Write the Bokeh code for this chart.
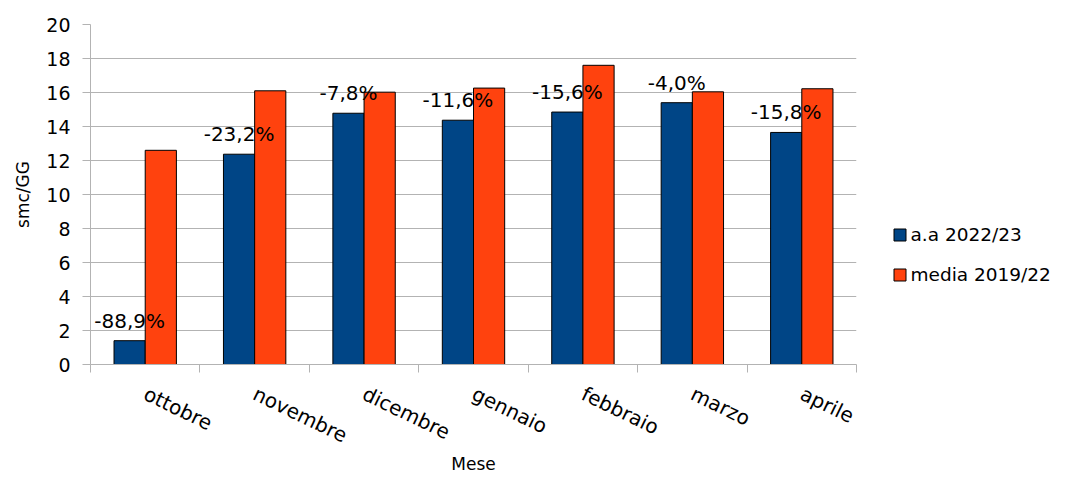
import math
from bokeh.plotting import figure
from bokeh.layouts import row
from bokeh.models import ColumnDataSource, FixedTicker, Legend, LegendItem, Range1d
from bokeh.core.properties import value
from bokeh.embed import file_html
from bokeh.resources import INLINE

# ---- data ----
months = ["ottobre", "novembre", "dicembre", "gennaio", "febbraio", "marzo", "aprile"]
aa_2022_23 = [1.4, 12.37, 14.78, 14.37, 14.85, 15.4, 13.65]
media_2019_22 = [12.6, 16.1, 16.02, 16.26, 17.6, 16.04, 16.22]
diff_labels = ["-88,9%", "-23,2%", "-7,8%", "-11,6%", "-15,6%", "-4,0%", "-15,8%"]
y_ticks = list(range(0, 21, 2))
series_names = ["a.a 2022/23", "media 2019/22"]

# ---- styling ----
FONT = "DejaVu Sans"
BLUE = "#004586"
ORANGE = "#ff420e"
GRID = "#b3b3b3"
bar_w = 0.285
off = 0.1425

n = len(months)
centers = [i + 0.5 for i in range(n)]
src = ColumnDataSource(dict(
    xb=[c - off for c in centers],
    xo=[c + off for c in centers],
    aa=aa_2022_23,
    media=media_2019_22,
    lab=diff_labels,
))

H = 477
W1 = 886          # chart part
W2 = 1067 - W1    # legend part

p = figure(width=W1, height=H, output_backend="svg", toolbar_location=None,
           x_range=Range1d(0, n), y_range=Range1d(0, 20),
           min_border_left=90, min_border_right=W1 - 856,
           min_border_top=24, min_border_bottom=H - 364)
p.outline_line_color = None
p.background_fill_color = "white"
p.border_fill_color = "white"

r1 = p.vbar(x="xb", top="aa", width=bar_w, source=src, fill_color=BLUE,
            line_color="black", line_width=1)
r2 = p.vbar(x="xo", top="media", width=bar_w, source=src, fill_color=ORANGE,
            line_color="black", line_width=1)

p.text(x="xb", y="aa", text="lab", source=src, text_align="center",
       text_baseline="alphabetic", y_offset=-20,
       text_font=value(FONT), text_font_size=value("20px"), text_color="black")

# y axis
yax = p.yaxis[0]
yax.ticker = FixedTicker(ticks=y_ticks)
yax.axis_line_color = GRID
yax.major_tick_line_color = GRID
yax.major_tick_out = 8
yax.major_tick_in = 0
yax.minor_tick_line_color = None
yax.major_label_standoff = 12
yax.major_label_text_font = FONT
yax.major_label_text_font_size = "19px"
yax.major_label_text_color = "black"
yax.axis_label = "smc/GG"
yax.axis_label_text_font = FONT
yax.axis_label_text_font_size = "17px"
yax.axis_label_text_font_style = "normal"
yax.axis_label_text_color = "black"
yax.axis_label_standoff = 10

p.ygrid.ticker = FixedTicker(ticks=y_ticks)
p.ygrid.grid_line_color = GRID
p.xgrid.grid_line_color = None

# x axis
xax = p.xaxis[0]
xax.ticker = FixedTicker(ticks=centers, minor_ticks=list(range(n + 1)))
xax.major_label_overrides = {c: m for c, m in zip(centers, months)}
xax.axis_line_color = GRID
xax.major_tick_out = 0
xax.major_tick_in = 0
xax.minor_tick_line_color = GRID
xax.minor_tick_out = 8
xax.minor_tick_in = 0
xax.major_label_orientation = -0.45
xax.major_label_standoff = 20
xax.major_label_text_font = FONT
xax.major_label_text_font_size = "20px"
xax.major_label_text_color = "black"
xax.axis_label = "Mese"
xax.axis_label_text_font = FONT
xax.axis_label_text_font_size = "17px"
xax.axis_label_text_font_style = "normal"
xax.axis_label_text_color = "black"
xax.axis_label_standoff = -7

# legend panel (separate area to the right of the chart); its renderers are
# hidden, only their legend swatches are shown
q = figure(width=W2, height=H, output_backend="svg", toolbar_location=None,
           x_range=Range1d(0, n), y_range=Range1d(0, 20),
           x_axis_type=None, y_axis_type=None,
           min_border_left=0, min_border_right=0,
           min_border_top=0, min_border_bottom=0)
q.outline_line_color = None
q.grid.grid_line_color = None
q.background_fill_color = "white"
q.border_fill_color = "white"
g1 = q.vbar(x="xb", top="aa", width=bar_w, source=src, fill_color=BLUE,
            line_color="black", line_width=1, visible=False)
g2 = q.vbar(x="xo", top="media", width=bar_w, source=src, fill_color=ORANGE,
            line_color="black", line_width=1, visible=False)

legend = Legend(items=[LegendItem(label=series_names[0], renderers=[g1]),
                       LegendItem(label=series_names[1], renderers=[g2])],
                location=(891.5 - W1, 79), orientation="vertical",
                glyph_width=15, glyph_height=15, label_standoff=4, spacing=19,
                padding=0, margin=0, border_line_color=None,
                background_fill_alpha=0,
                inactive_fill_alpha=0,
                label_text_font=FONT, label_text_font_size="18.5px",
                label_text_color="black")
q.add_layout(legend, "center")

layout = row(p, q)
open("out.html", "w").write(file_html(layout, INLINE))
